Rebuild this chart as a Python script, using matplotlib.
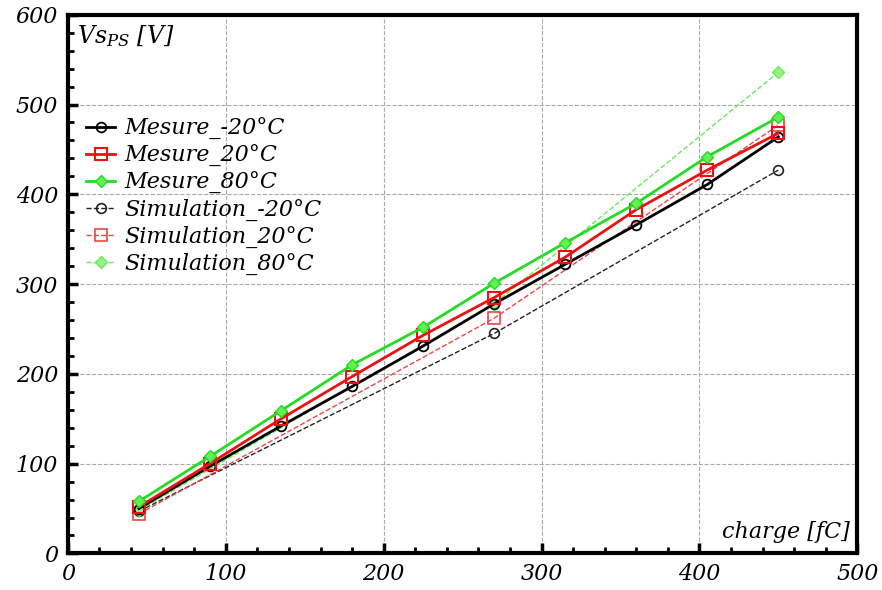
import matplotlib
matplotlib.use("Agg")
import matplotlib.pyplot as plt
from matplotlib.ticker import MultipleLocator

plt.rcParams['font.family'] = 'DejaVu Serif'
plt.rcParams['font.style'] = 'italic'
plt.rcParams['mathtext.fontset'] = 'dejavuserif'

# data
charge = [45, 90, 135, 180, 225, 270, 315, 360, 405, 450]
mes_m20 = [50, 97, 142, 186, 231, 278, 322, 366, 411, 464]
mes_20 = [52, 100, 150, 197, 243, 285, 330, 383, 427, 468]
mes_80 = [58, 108, 159, 210, 252, 301, 346, 390, 442, 486]

charge_sim = [45, 270, 450]
sim_m20 = [47, 245, 427]
sim_20 = [44, 262, 477]
sim_80 = [48, 278, 536]

green = "#22dd22"
lgreen = "#66ee55"

fig = plt.figure(figsize=(8.82, 5.9), dpi=100)
ax = fig.add_axes([0.077, 0.062, 0.895, 0.913])

ax.plot(charge, mes_m20, "-o", color="black", lw=2, ms=7, mfc="none", mew=1.3,
        label="Mesure_-20°C", zorder=4)
ax.plot(charge, mes_20, "-s", color="#ee1111", lw=2, ms=9, mfc="none", mew=1.5,
        label="Mesure_20°C", zorder=4)
ax.plot(charge, mes_80, "-D", color=green, lw=2, ms=6, mfc=lgreen, mec=green,
        label="Mesure_80°C", zorder=4)
ax.plot(charge_sim, sim_m20, "--o", color="#222222", lw=1, ms=7, mfc="none",
        mew=1.2, label="Simulation_-20°C", zorder=3)
ax.plot(charge_sim, sim_20, "--s", color="#ee4444", lw=1, ms=9, mfc="none",
        mew=1.2, label="Simulation_20°C", zorder=3)
ax.plot(charge_sim, sim_80, "--D", color=lgreen, lw=1, ms=6, mfc="#99ee88",
        mec=lgreen, label="Simulation_80°C", zorder=3)

ax.set_xlim(0, 500)
ax.set_ylim(0, 600)
ax.xaxis.set_major_locator(MultipleLocator(100))
ax.xaxis.set_minor_locator(MultipleLocator(20))
ax.yaxis.set_major_locator(MultipleLocator(100))
ax.yaxis.set_minor_locator(MultipleLocator(20))
ax.tick_params(which="major", direction="in", length=7, width=2.5,
               labelsize=16, pad=7)
ax.tick_params(which="minor", direction="in", length=4, width=2)
ax.tick_params(top=False, right=False, which="both")
ax.grid(True, which="major", color="#aaaaaa", ls="--", lw=0.8)
for s in ax.spines.values():
    s.set_linewidth(3)

ax.text(0.012, 0.985, r"$Vs_{PS}$ [V]", transform=ax.transAxes,
        fontsize=17, va="top", ha="left")
ax.text(0.99, 0.02, "charge [fC]", transform=ax.transAxes,
        fontsize=16, va="bottom", ha="right")

ax.legend(loc="upper left", bbox_to_anchor=(0.012, 0.825), frameon=False,
          fontsize=16, handlelength=1.3, handletextpad=0.4,
          labelspacing=0.22, borderaxespad=0)

fig.savefig("out.png", dpi=100)
